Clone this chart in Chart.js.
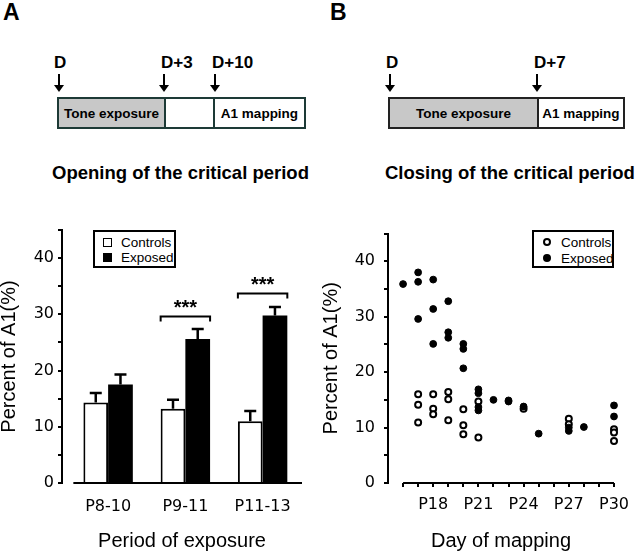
<!DOCTYPE html>
<html>
<head>
<meta charset="utf-8">
<script src="https://cdn.jsdelivr.net/npm/chart.js@4.4.1/dist/chart.umd.min.js"></script>
<style>
  body { margin: 0; width: 640px; height: 553px; background: #fff; position: relative; overflow: hidden;
         font-family: "Liberation Sans", Arial, sans-serif; color: #000; }
  .abs { position: absolute; white-space: nowrap; line-height: 1; }
  .panel { font-weight: bold; font-size: 23px; }
  .dl { font-weight: bold; font-size: 17px; }
  .arrow { position: absolute; top: 74px; width: 2px; height: 12px; background: #000; }
  .arrow:after { content: ""; position: absolute; left: -4px; top: 11px; border-left: 5px solid transparent;
                 border-right: 5px solid transparent; border-top: 7px solid #000; }
  .box { position: absolute; top: 97px; height: 32px; box-sizing: border-box; border: 2px solid #1d3a36; }
  .seg { position: absolute; top: 0; bottom: 0; display: flex; align-items: center; justify-content: center;
         font-weight: bold; font-size: 13.5px; box-sizing: border-box; white-space: nowrap; }
  .ttl { font-weight: bold; font-size: 18.5px; }
  .legend { position: absolute; box-sizing: border-box; border: 2px solid #000; background: #fff; font-size: 13.5px; }
  .legend .row { position: absolute; left: 0; white-space: nowrap; line-height: 1; }
  .mk { position: absolute; box-sizing: border-box; }
  canvas { position: absolute; }
</style>
</head>
<body>
<!-- panel A header -->
<div class="abs panel" style="left:3px;top:1px">A</div>
<div class="abs dl" style="left:54px;top:54px">D</div>
<div class="abs dl" style="left:161px;top:54px">D+3</div>
<div class="abs dl" style="left:212px;top:54px">D+10</div>
<div class="arrow" style="left:58px"></div>
<div class="arrow" style="left:163px"></div>
<div class="arrow" style="left:214px"></div>
<div class="box" style="left:57px;width:249px">
  <div class="seg" style="left:0;width:105px;background:#c8c8c8">Tone exposure</div>
  <div class="seg" style="left:105px;width:49px;border-left:2px solid #1d3a36"></div>
  <div class="seg" style="left:154px;right:0;border-left:2px solid #1d3a36">A1 mapping</div>
</div>
<div class="abs ttl" style="left:52px;top:164px">Opening of the critical period</div>

<!-- panel B header -->
<div class="abs panel" style="left:330px;top:1px">B</div>
<div class="abs dl" style="left:386px;top:54px">D</div>
<div class="abs dl" style="left:534px;top:54px">D+7</div>
<div class="arrow" style="left:389px"></div>
<div class="arrow" style="left:536px"></div>
<div class="box" style="left:388px;width:237px;border-color:#222">
  <div class="seg" style="left:0;width:147px;background:#c8c8c8">Tone exposure</div>
  <div class="seg" style="left:147px;right:0;border-left:2px solid #222">A1 mapping</div>
</div>
<div class="abs ttl" style="left:385px;top:164px">Closing of the critical period</div>

<canvas id="chartA" width="320" height="338" style="left:0;top:215px"></canvas>
<canvas id="chartB" width="320" height="338" style="left:320px;top:215px"></canvas>

<div class="legend" style="left:93px;top:230px;width:83px;height:38px">
  <div class="mk" style="left:8px;top:6px;width:9px;height:9px;border:1.5px solid #000;background:#fff"></div>
  <div class="row" style="left:26px;top:4px">Controls</div>
  <div class="mk" style="left:8px;top:21px;width:9px;height:9px;background:#000"></div>
  <div class="row" style="left:26px;top:19px">Exposed</div>
</div>
<div class="legend" style="left:532px;top:230px;width:82px;height:38px">
  <div class="mk" style="left:9px;top:6px;width:8px;height:8px;border:2px solid #000;border-radius:50%;background:#fff"></div>
  <div class="row" style="left:27px;top:4px">Controls</div>
  <div class="mk" style="left:9px;top:22px;width:8px;height:8px;border-radius:50%;background:#000"></div>
  <div class="row" style="left:27px;top:20px">Exposed</div>
</div>

<script>
// Panel A: bar chart (mean + upper error)
const periods = ['P8-10', 'P9-11', 'P11-13'];
const ctrlMean = [14.3, 13.2, 11.0];
const ctrlErr = [1.7, 1.6, 1.8];
const expMean = [17.5, 25.6, 29.8];
const expErr = [1.8, 1.8, 1.5];
const sigIndex = [1, 2];
const sigLevel = [29.6, 33.7];

// Panel B: scatter by day of mapping
const ctrlDays = [17, 17, 17, 18, 18, 18, 19, 19, 19, 20, 20, 20, 21, 21, 24, 27, 27, 30, 30, 30];
const ctrlVals = [16.0, 14.1, 10.9, 16.0, 13.4, 12.4, 16.4, 15.1, 11.3, 13.3, 10.4, 8.8, 14.7, 8.2, 13.4, 11.6, 10.6, 9.7, 9.1, 7.6];
const expDays = [16, 17, 17, 17, 18, 18, 18, 19, 19, 19, 20, 20, 20, 21, 21, 21, 21, 22, 23, 23, 24, 25, 27, 27, 28, 30, 30];
const expVals = [35.9, 38.0, 36.3, 29.6, 36.7, 31.4, 25.1, 32.8, 27.2, 26.2, 25.1, 24.2, 20.7, 16.9, 16.2, 13.7, 13.1, 15.0, 14.9, 14.7, 13.8, 8.9, 10.0, 9.4, 10.1, 14.0, 12.0];
const dayLabels = [18, 21, 24, 27, 30];

const tickFont = { family: 'DejaVu Sans', size: 16 };
const titleFont = { family: 'Liberation Sans', size: 20, lineHeight: 1 };

// x-axis base line, drawn between two values
const baseLine = {
  id: 'baseLine',
  afterDraw(chart, args, opts) {
    const { ctx, chartArea, scales: { x } } = chart;
    ctx.save();
    ctx.strokeStyle = '#000';
    ctx.lineWidth = 2;
    ctx.beginPath();
    ctx.moveTo(x.getPixelForValue(opts.from), chartArea.bottom);
    ctx.lineTo(x.getPixelForValue(opts.to), chartArea.bottom);
    ctx.stroke();
    ctx.restore();
  }
};

// error bars and significance brackets for panel A
const barExtras = {
  id: 'barExtras',
  afterDatasetsDraw(chart) {
    const { ctx, scales: { y } } = chart;
    ctx.save();
    ctx.strokeStyle = '#000';
    ctx.fillStyle = '#000';
    ctx.lineWidth = 2.5;
    [ctrlErr, expErr].forEach((errs, di) => {
      const meta = chart.getDatasetMeta(di);
      meta.data.forEach((bar, i) => {
        const v = chart.data.datasets[di].data[i].y;
        const top = y.getPixelForValue(v + errs[i]);
        ctx.beginPath();
        ctx.moveTo(bar.x, bar.y);
        ctx.lineTo(bar.x, top);
        ctx.moveTo(bar.x - 6, top);
        ctx.lineTo(bar.x + 6, top);
        ctx.stroke();
      });
    });
    ctx.lineWidth = 2;
    ctx.font = 'bold 20px "Liberation Sans"';
    ctx.textAlign = 'center';
    sigIndex.forEach((k, n) => {
      const a = chart.getDatasetMeta(0).data[k];
      const b = chart.getDatasetMeta(1).data[k];
      const x1 = a.x - a.width / 2, x2 = b.x + b.width / 2;
      const yy = y.getPixelForValue(sigLevel[n]);
      ctx.beginPath();
      ctx.moveTo(x1, yy + 5);
      ctx.lineTo(x1, yy);
      ctx.lineTo(x2, yy);
      ctx.lineTo(x2, yy + 5);
      ctx.stroke();
      ctx.fillText('***', (x1 + x2) / 2, yy - 3);
    });
    ctx.restore();
  }
};

new Chart(document.getElementById('chartA'), {
  type: 'bar',
  data: {
    datasets: [
      {
        label: 'Controls',
        data: ctrlMean.map((v, i) => ({ x: i + 1, y: v })),
        backgroundColor: '#fff', borderColor: '#000', borderWidth: 2
      },
      {
        label: 'Exposed',
        data: expMean.map((v, i) => ({ x: i + 1, y: v })),
        backgroundColor: '#000', borderColor: '#000', borderWidth: 0
      }
    ]
  },
  options: {
    responsive: false, animation: false, devicePixelRatio: 1,
    categoryPercentage: 0.64, barPercentage: 1,
    layout: { padding: { top: 15, right: 18, left: 0, bottom: 0 } },
    plugins: { legend: { display: false }, tooltip: { enabled: false }, baseLine: { from: 0.55, to: 3.51 } },
    scales: {
      x: {
        type: 'linear', min: 0.403, max: 3.51, offset: false,
        afterBuildTicks: s => { s.ticks = periods.map((p, i) => ({ value: i + 1 })); },
        afterFit: s => { s.height = 70; },
        grid: { display: false }, border: { display: false },
        ticks: { font: tickFont, color: '#000', padding: 6, maxRotation: 0, autoSkip: false,
                 callback: v => periods[Math.round(v) - 1] },
        title: { display: true, text: 'Period of exposure', font: titleFont, color: '#000', padding: { top: 0, bottom: 2 } }
      },
      y: {
        min: 0, max: 45,
        afterFit: s => { s.width = 62; },
        grid: { drawOnChartArea: false, color: '#000', lineWidth: 2, tickLength: 4 },
        border: { display: true, color: '#000', width: 2 },
        ticks: { stepSize: 5, font: tickFont, color: '#000', padding: 4,
                 callback: v => (v % 10 === 0 && v <= 40) ? v : '' },
        title: { display: true, text: 'Percent of A1(%)', font: titleFont, color: '#000', padding: { top: -1, bottom: 0 } }
      }
    }
  },
  plugins: [baseLine, barExtras]
});

new Chart(document.getElementById('chartB'), {
  type: 'scatter',
  data: {
    datasets: [
      {
        label: 'Controls',
        data: ctrlDays.map((d, i) => ({ x: d, y: ctrlVals[i] })),
        pointRadius: 3, pointBackgroundColor: '#fff', pointBorderColor: '#000', pointBorderWidth: 2,
        clip: false, order: 2
      },
      {
        label: 'Exposed',
        data: expDays.map((d, i) => ({ x: d, y: expVals[i] })),
        pointRadius: 3.4, pointBackgroundColor: '#000', pointBorderColor: '#000', pointBorderWidth: 1,
        clip: false, order: 1
      }
    ]
  },
  options: {
    responsive: false, animation: false, devicePixelRatio: 1,
    layout: { padding: { top: 15, right: 26, left: 0, bottom: 0 } },
    plugins: { legend: { display: false }, tooltip: { enabled: false }, baseLine: { from: 16, to: 30 } },
    scales: {
      x: {
        type: 'linear', min: 15, max: 30,
        afterBuildTicks: s => {
          const t = [];
          for (let d = 16; d <= 30; d++) t.push({ value: d });
          s.ticks = t;
        },
        afterFit: s => { s.height = 70; },
        grid: { drawOnChartArea: false, color: '#000', lineWidth: 2, tickLength: 4 },
        border: { display: false },
        ticks: { font: tickFont, color: '#000', padding: 8, maxRotation: 0, autoSkip: false,
                 callback: v => dayLabels.includes(v) ? 'P' + v : '' },
        title: { display: true, text: 'Day of mapping', font: titleFont, color: '#000', padding: { top: 0, bottom: 2 } }
      },
      y: {
        min: 0, max: 45,
        afterFit: s => { s.width = 68; },
        grid: { drawOnChartArea: false, color: '#000', lineWidth: 2, tickLength: 4 },
        border: { display: true, color: '#000', width: 2 },
        ticks: { stepSize: 5, font: tickFont, color: '#000', padding: 9,
                 callback: v => (v % 10 === 0 && v <= 40) ? v : '' },
        title: { display: true, text: 'Percent of A1(%)', font: titleFont, color: '#000', padding: { top: 1, bottom: 0 } }
      }
    }
  },
  plugins: [baseLine]
});
</script>
</body>
</html>
